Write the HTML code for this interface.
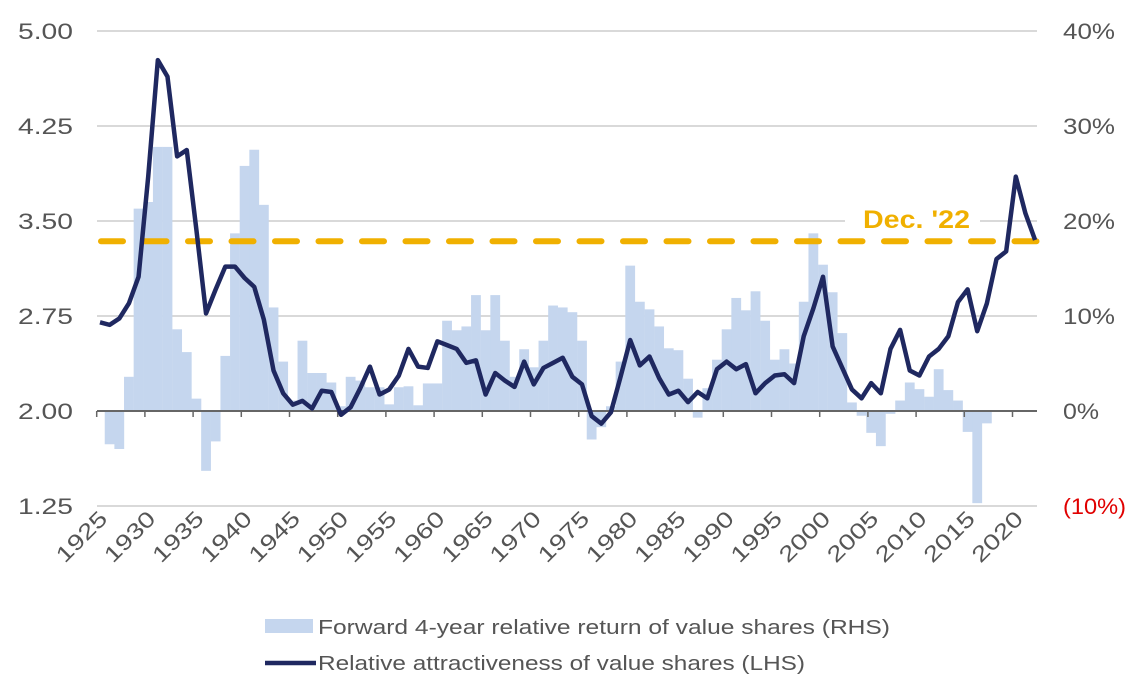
<!DOCTYPE html>
<html><head><meta charset="utf-8"><style>
html,body{margin:0;padding:0;background:#fff;}
svg{display:block;font-family:"Liberation Sans",sans-serif;}
</style></head><body>
<svg id="chart" width="1143" height="689"></svg>
<script>
const years = []; for (let y = 1925; y <= 2022; y++) years.push(y);
const lhsValues = [2.70,2.68,2.73,2.85,3.06,3.85,4.77,4.64,4.01,4.06,3.43,2.77,2.96,3.14,3.14,3.05,2.98,2.72,2.32,2.14,2.05,2.08,2.02,2.16,2.15,1.97,2.03,2.18,2.35,2.13,2.17,2.28,2.49,2.35,2.34,2.55,2.52,2.49,2.38,2.40,2.13,2.30,2.24,2.19,2.39,2.21,2.34,2.38,2.42,2.27,2.21,1.96,1.90,1.99,2.27,2.56,2.36,2.43,2.26,2.13,2.16,2.07,2.15,2.10,2.33,2.39,2.33,2.37,2.14,2.22,2.28,2.29,2.22,2.59,2.81,3.06,2.51,2.34,2.17,2.10,2.22,2.14,2.49,2.64,2.32,2.28,2.43,2.49,2.59,2.86,2.96,2.63,2.85,3.20,3.26,3.85,3.56,3.35];
const rhsValues = [0,-3.5,-4.0,3.6,21.3,22.0,27.8,27.8,8.6,6.2,1.3,-6.3,-3.2,5.8,18.7,25.8,27.5,21.7,10.9,5.2,1.1,7.4,4.0,4.0,3.0,0.5,3.6,3.2,2.5,2.5,0.7,2.5,2.6,0.6,2.9,2.9,9.5,8.5,8.9,12.2,8.5,12.2,7.4,3.6,6.5,4.6,7.4,11.1,10.9,10.4,7.4,-3.0,-1.7,0.5,5.2,15.3,11.5,10.7,8.9,6.6,6.4,3.4,-0.7,2.4,5.4,8.6,11.9,10.6,12.6,9.5,5.4,6.5,5.0,11.5,18.7,15.4,12.5,8.2,0.9,-0.5,-2.3,-3.7,-0.3,1.1,3.0,2.3,1.5,4.4,2.2,1.1,-2.2,-9.7,-1.3,null,null,null,null,null];
const lhsTicks = [5.00,4.25,3.50,2.75,2.00,1.25];
const rhsTicks = ["40%","30%","20%","10%","0%","(10%)"];
const xTickYears = [1925,1930,1935,1940,1945,1950,1955,1960,1965,1970,1975,1980,1985,1990,1995,2000,2005,2010,2015,2020];
const dec22Value = 3.34;

const NS="http://www.w3.org/2000/svg", svg=document.getElementById('chart');
function el(t,a,p){const e=document.createElementNS(NS,t);for(const k in a)e.setAttribute(k,a[k]);(p||svg).appendChild(e);return e;}
const xOf = yr => 100 + (yr-1925)*9.64;
const yL = v => 411 - (v-2)*126.67;
const yR = p => 411 - p*9.5;

lhsTicks.forEach((t,i)=>{
  const y=yL(t);
  if(t!==2){const g=el('line',{x1:97,x2:1037,y1:y,y2:y,stroke:'#d9d9d9','stroke-width':2});
  
  }
  const l=el('text',{x:18,y:y+8,'font-size':22,fill:'#555',textLength:55,lengthAdjust:'spacingAndGlyphs'});l.textContent=t.toFixed(2);
  
  
  const rw = i===5 ? 63 : (i===4 ? 36 : 52);
  const r=el('text',{x:1063,y:y+8,'font-size':22,fill:i===5?'#e00000':'#555',textLength:rw,lengthAdjust:'spacingAndGlyphs'});r.textContent=rhsTicks[i];
  
  
});
years.forEach((yr,i)=>{
  const v=rhsValues[i]; if(v===null||v===0) return;
  const x=xOf(yr)-4.9, y0=yR(0), y1=yR(v);
  const b=el('rect',{x:x,y:Math.min(y0,y1),width:9.8,height:Math.abs(y1-y0),fill:'#c5d6ee'});
  
  
});
const ax=el('line',{x1:97,x2:1037,y1:411,y2:411,stroke:'#666','stroke-width':2});


xTickYears.forEach(yr=>{
  const x=xOf(yr)-3.3;
  const t=el('line',{x1:x,x2:x,y1:411,y2:417,stroke:'#666','stroke-width':1.5});
  
  
  const l=el('text',{x:0,y:0,'text-anchor':'end','font-size':22,fill:'#555',textLength:62,lengthAdjust:'spacingAndGlyphs',transform:`translate(${x+12},${520}) rotate(-45)`});
  l.textContent=yr;
  
  
});
const dy=yL(dec22Value);
const d=el('line',{x1:101,x2:1037,y1:dy,y2:dy,stroke:'#f0b000','stroke-width':6,'stroke-dasharray':'22 21.5','stroke-linecap':'round'});


const bg=el('rect',{x:845,y:200,width:135,height:32,fill:'#fff'});


const dl=el('text',{x:863,y:228,'font-size':25,'font-weight':'bold',fill:'#f0b000',textLength:107,lengthAdjust:'spacingAndGlyphs'});dl.textContent="Dec. '22";


const pts=years.map((yr,i)=>xOf(yr)+','+yL(lhsValues[i])).join(' ');
const pl=el('polyline',{points:pts,fill:'none',stroke:'#1f2860','stroke-width':4.5,'stroke-linejoin':'round'});


const s1=el('rect',{x:265,y:619,width:48,height:14,fill:'#c5d6ee'});


const t1=el('text',{x:318,y:634,'font-size':20,fill:'#555',textLength:572,lengthAdjust:'spacingAndGlyphs'});t1.textContent="Forward 4-year relative return of value shares (RHS)";


const s2=el('line',{x1:265,x2:316,y1:663,y2:663,stroke:'#1f2860','stroke-width':4.5});


const t2=el('text',{x:318,y:670,'font-size':20,fill:'#555',textLength:487,lengthAdjust:'spacingAndGlyphs'});t2.textContent="Relative attractiveness of value shares (LHS)";


</script>
</body></html>
